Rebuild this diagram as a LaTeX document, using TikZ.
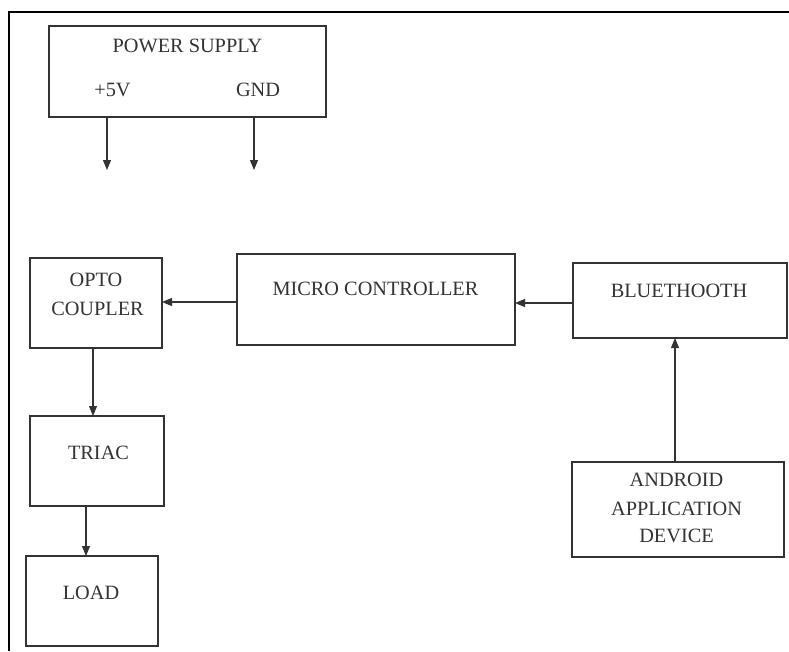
\documentclass[tikz,border=0pt]{standalone}
\usepackage{fontspec}
\setmainfont{Liberation Serif}
\usetikzlibrary{arrows.meta}
\begin{document}
\begin{tikzpicture}[x=1pt,y=-1pt,
  blk/.style={draw=black!80,line width=1.3pt,inner sep=0pt,outer sep=0pt,rectangle},
  lbl/.style={anchor=base,inner sep=0pt,text=black!80,font=\fontsize{20.3}{24}\selectfont},
  conn/.style={draw=black!80,line width=1.1pt,-{Triangle[length=10pt,width=8pt]}},
  frame/.style={draw=black,line width=2pt}]
\useasboundingbox (0,0) rectangle (789,651);
\fill[white] (0,0) rectangle (789,651);
% outer frame
\coordinate (fl) at (9,651);
\coordinate (fc) at (9,12);
\coordinate (fr) at (789,12);
\draw[frame] (fl) -- (fc) -- (fr);
% boxes
\node[blk,minimum width=277pt,minimum height=91pt] (ps) at (187.5,71.5) {};
\node[blk,minimum width=132pt,minimum height=90pt] (opto) at (96,303) {};
\node[blk,minimum width=278pt,minimum height=91pt] (mc) at (376,299.5) {};
\node[blk,minimum width=214pt,minimum height=75pt] (bt) at (680,300.5) {};
\node[blk,minimum width=212pt,minimum height=95pt] (andr) at (678,509.5) {};
\node[blk,minimum width=134pt,minimum height=90pt] (triac) at (97,461) {};
\node[blk,minimum width=132pt,minimum height=90pt] (load) at (92,601) {};
% labels
\node[lbl] (tps) at (187.5,52) {POWER SUPPLY};
\node[lbl] (t5v) at (112.5,96) {+5V};
\node[lbl] (tgnd) at (258,96) {GND};
\node[lbl] (topto) at (96,286) {OPTO};
\node[lbl] (tcoup) at (97.5,315) {COUPLER};
\node[lbl] (tmc) at (375.5,295) {MICRO CONTROLLER};
\node[lbl] (tbt) at (679,297) {BLUETHOOTH};
\node[lbl] (ttriac) at (98.5,459) {TRIAC};
\node[lbl] (tload) at (91,599) {LOAD};
\node[lbl] (tand1) at (676.5,486) {ANDROID};
\node[lbl] (tand2) at (676.5,515) {APPLICATION};
\node[lbl] (tand3) at (676.5,542) {DEVICE};
% connectors
\coordinate (e5v) at (107,170);
\coordinate (egnd) at (254,170);
\draw[conn] (ps.south -| e5v) -- (e5v);
\draw[conn] (ps.south -| egnd) -- (egnd);
\draw[conn] (mc.west |- 0,302) -- (opto.east |- 0,302);
\draw[conn] (bt.west |- 0,303) -- (mc.east |- 0,303);
\draw[conn] (andr.north -| 675,0) -- (bt.south -| 675,0);
\draw[conn] (opto.south -| 93,0) -- (triac.north -| 93,0);
\draw[conn] (triac.south -| 86,0) -- (load.north -| 86,0);
\end{tikzpicture}
\end{document}
